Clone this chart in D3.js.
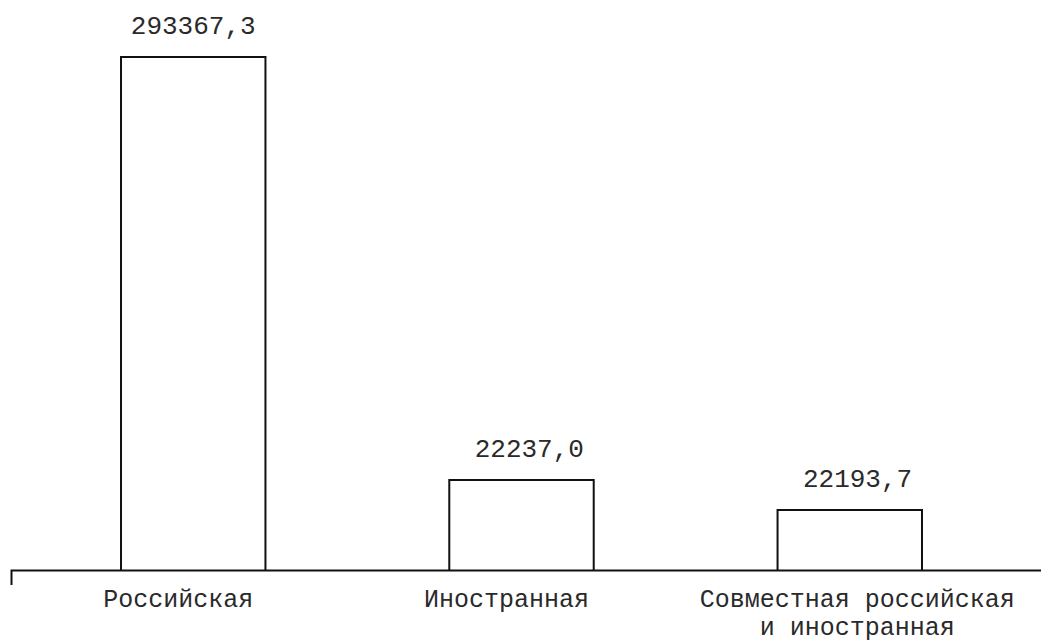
<!DOCTYPE html>
<html>
<head>
<meta charset="utf-8">
<script src="https://cdn.jsdelivr.net/npm/d3@7"></script>
<style>
  html, body { margin: 0; padding: 0; background: #fff; }
  svg { display: block; }
  text { font-family: "Liberation Mono", "Courier New", monospace; font-size: 26px; fill: #2a2a2a; white-space: pre; }
  text.cat { font-size: 25px; }
</style>
</head>
<body>
<svg id="chart" width="1041" height="642"></svg>
<script>
// Categories (each split into display lines, padded as on the text grid of the original)
const categories = ["Российская", "Иностранная", "Совместная российская и иностранная"];
const categoryLines = [["Российская  "], ["Иностранная  "], [" Совместная российская", " и иностранная"]];
// Printed values above the bars
const values = [293367.3, 22237.0, 22193.7];
// Bar heights as drawn in the picture (the picture is not to scale for the small bars)
const drawnValues = [293367.3, 51700, 34560];

const W = 1041, H = 642;
const svg = d3.select("#chart");

const x = d3.scaleBand()
  .domain(categories)
  .range([29.1, 1013.9])
  .paddingInner(0.56)
  .paddingOuter(0.28);

const y = d3.scaleLinear()
  .domain([0, d3.max(drawnValues)])
  .range([570.5, 57]);

const fmt = v => d3.format(".1f")(v).replace(".", ",").padStart(8, " ");

const data = categories.map((c, i) => ({ c, v: values[i], d: drawnValues[i], lines: categoryLines[i] }));

// bars (open at bottom, sitting on the axis)
svg.append("g").selectAll("path")
  .data(data)
  .join("path")
  .attr("d", d => {
    const x0 = x(d.c), x1 = x(d.c) + x.bandwidth();
    return `M${x0},${y(0)}V${y(d.d)}H${x1}V${y(0)}`;
  })
  .attr("fill", "#fff")
  .attr("stroke", "#111")
  .attr("stroke-width", 2);

// axis line with left corner tick
svg.append("path")
  .attr("d", `M11.5,585V${y(0)}H${W}`)
  .attr("fill", "none")
  .attr("stroke", "#111")
  .attr("stroke-width", 2);

// value labels
svg.append("g").selectAll("text")
  .data(data)
  .join("text")
  .attr("x", d => x(d.c) + x.bandwidth() / 2)
  .attr("y", d => y(d.d) - 23)
  .attr("text-anchor", "middle")
  .attr("xml:space", "preserve")
  .text(d => fmt(d.v));

// category labels
const cl = svg.append("g").selectAll("text")
  .data(data)
  .join("text")
  .attr("class", "cat")
  .attr("x", d => x(d.c) + x.bandwidth() / 2)
  .attr("y", 606.5)
  .attr("text-anchor", "middle")
  .attr("xml:space", "preserve");
cl.selectAll("tspan")
  .data(d => d.lines.map((l, i) => ({ l, i, cx: x(d.c) + x.bandwidth() / 2 })))
  .join("tspan")
  .attr("x", t => t.cx)
  .attr("dy", t => t.i === 0 ? 0 : 28)
  .text(t => t.l);
</script>
</body>
</html>
